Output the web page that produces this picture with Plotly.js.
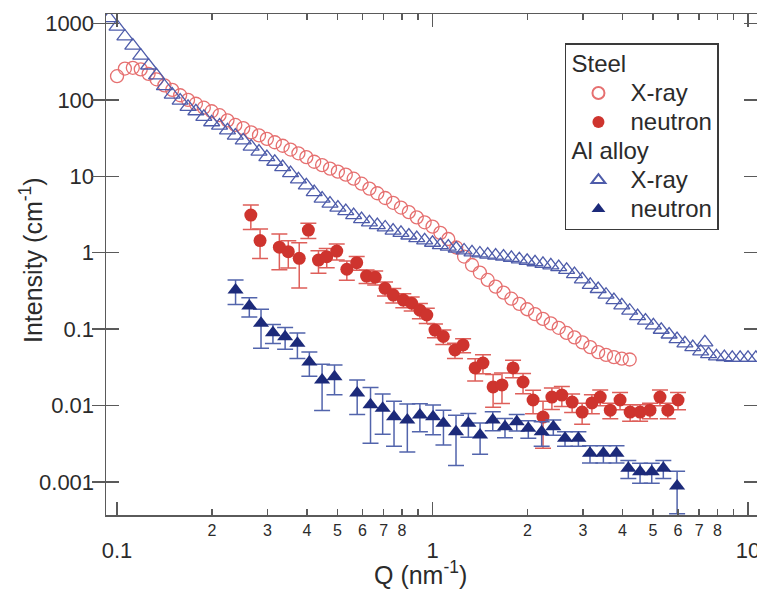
<!DOCTYPE html>
<html>
<head>
<meta charset="utf-8">
<script src="https://cdn.plot.ly/plotly-3.0.1.min.js"></script>
<style>html,body{margin:0;padding:0;background:#fff;}#chart{width:757px;height:589px;}</style>
</head>
<body>
<div id="chart"></div>
<script>
// ---- Data ----
var steelXrayQ = [0.1,0.1059,0.1122,0.1189,0.1259,0.1334,0.1413,0.1496,0.1585,0.1679,0.1778,0.1884,0.1995,0.2113,0.2239,0.2371,0.2512,0.2661,0.2818,0.2985,0.3162,0.335,0.3548,0.3758,0.3981,0.4217,0.4467,0.4732,0.5012,0.5309,0.5623,0.5957,0.631,0.6683,0.7079,0.7499,0.7943,0.8414,0.8913,0.9441,1.0,1.059,1.122,1.189,1.259,1.334,1.413,1.496,1.585,1.679,1.778,1.884,1.995,2.113,2.239,2.371,2.512,2.661,2.818,2.985,3.162,3.35,3.548,3.758,3.981,4.217];
var steelXrayI = [204,257,263,251,219,186,155,135,115,100,89,79,71,63,54,47,42.7,37.6,34.3,30.9,27.9,25.1,22.4,20.0,17.8,15.5,14.0,12.6,11.5,10.5,9.3,8.0,6.9,6.0,5.2,4.5,3.9,3.4,2.9,2.5,2.19,1.82,1.51,1.17,0.89,0.69,0.55,0.44,0.36,0.30,0.25,0.214,0.182,0.157,0.136,0.119,0.104,0.089,0.078,0.067,0.058,0.050,0.046,0.043,0.041,0.040];

var steelNeutronQ = [0.2655,0.284,0.327,0.349,0.378,0.404,0.435,0.462,0.497,0.535,0.575,0.618,0.658,0.707,0.751,0.808,0.859,0.912,0.959,1.018,1.082,1.178,1.25,1.365,1.445,1.556,1.66,1.80,1.936,2.083,2.24,2.39,2.57,2.77,2.98,3.20,3.40,3.66,3.93,4.23,4.55,4.89,5.26,5.57,6.00];
var steelNeutronI = [3.11,1.44,1.18,1.03,0.845,1.98,0.80,0.887,1.05,0.607,0.74,0.495,0.477,0.342,0.279,0.240,0.218,0.177,0.153,0.097,0.080,0.0533,0.062,0.031,0.036,0.0175,0.0186,0.031,0.0203,0.0118,0.00706,0.0129,0.0137,0.0111,0.0082,0.0108,0.0129,0.0087,0.0118,0.0082,0.0082,0.0087,0.0129,0.0087,0.0118];
var steelNeutronErr = [1.1,0.6,0.58,0.4,0.5,0.45,0.26,0.25,0.25,0.17,0.15,0.1,0.1,0.07,0.06,0.05,0.045,0.04,0.035,0.02,0.017,0.012,0.013,0.01,0.01,0.008,0.008,0.008,0.006,0.004,0.0043,0.004,0.004,0.003,0.0025,0.003,0.003,0.002,0.003,0.002,0.002,0.002,0.003,0.002,0.003];

var alXrayQ = [0.0944,0.1,0.1059,0.1122,0.1189,0.1259,0.1334,0.1413,0.1496,0.1585,0.1679,0.1778,0.1884,0.1995,0.2113,0.2239,0.2371,0.2512,0.2661,0.2818,0.2985,0.3162,0.335,0.3548,0.3758,0.3981,0.4217,0.4467,0.4732,0.5012,0.5309,0.5623,0.5957,0.631,0.6683,0.7079,0.7499,0.7943,0.8414,0.8913,0.9441,1.0,1.059,1.122,1.189,1.259,1.334,1.413,1.496,1.585,1.679,1.778,1.884,1.995,2.113,2.239,2.371,2.512,2.661,2.818,2.985,3.162,3.35,3.548,3.758,3.981,4.217,4.467,4.732,5.012,5.309,5.623,5.957,6.31,6.683,7.079,7.499,7.943,8.414,8.913,9.441,10.0,10.59,7.3];
var alXrayI = [1175,912,676,513,380,282,209,151,117,98,81,71,60,51,46,40,34,29.5,24.5,21,17.8,15.5,13.2,11.0,9.1,7.6,6.2,5.1,4.4,3.9,3.5,3.1,2.75,2.5,2.3,2.14,1.95,1.82,1.68,1.55,1.45,1.35,1.26,1.20,1.135,1.07,1.01,0.977,0.944,0.918,0.89,0.855,0.82,0.785,0.75,0.716,0.684,0.646,0.596,0.525,0.447,0.38,0.335,0.282,0.24,0.204,0.174,0.148,0.129,0.112,0.098,0.085,0.074,0.065,0.058,0.051,0.047,0.044,0.043,0.042,0.042,0.042,0.042,0.067];

var alNeutronQ = [0.2375,0.2626,0.286,0.312,0.341,0.373,0.407,0.4466,0.489,0.577,0.636,0.695,0.755,0.832,0.912,1.004,1.083,1.187,1.299,1.415,1.552,1.697,1.849,2.012,2.218,2.415,2.63,2.90,3.156,3.48,3.83,4.175,4.548,4.953,5.39,5.96];
var alNeutronI = [0.325,0.2005,0.119,0.0897,0.0796,0.0652,0.0371,0.0216,0.0238,0.0146,0.0102,0.00919,0.00713,0.00646,0.00752,0.00713,0.00585,0.00454,0.00585,0.00411,0.00646,0.00528,0.00614,0.00503,0.00454,0.00528,0.00372,0.00372,0.00237,0.00237,0.00237,0.00151,0.00136,0.00136,0.00151,0.000884];
var alNeutronErr = [0.115,0.057,0.063,0.025,0.025,0.024,0.013,0.013,0.01,0.007,0.007,0.005,0.0042,0.004,0.003,0.003,0.0028,0.0029,0.002,0.0018,0.0018,0.0015,0.0015,0.0013,0.0016,0.0012,0.0008,0.0008,0.0006,0.0006,0.0006,0.0004,0.0004,0.0004,0.0004,0.0005];

var groupNames = ['Steel', 'Al alloy'];
var seriesNames = ['X-ray', 'neutron'];
var majorTicksX = [0.1, 1, 10];
var majorTextX = ['0.1', '1', '10'];
var minorTicksX = [0.2,0.3,0.4,0.5,0.6,0.7,0.8,2,3,4,5,6,7,8];
var minorTextX = ['2','3','4','5','6','7','8','2','3','4','5','6','7','8'];
var unlabeledTicksX = [0.9, 9];
var ticksY = [0.001, 0.01, 0.1, 1, 10, 100, 1000];
var ticksYText = ['0.001', '0.01', '0.1', '1', '10', '100', '1000'];
var xTitle = 'Q (nm<sup>-1</sup>)';
var yTitle = 'Intensity (cm<sup>-1</sup>)';

// ---- Styles ----
var FONT = 'Liberation Sans, Arial, Helvetica, sans-serif';
var TXT = '#2b2b2b';
var AX = '#5a5a5a';
var cSteelX = 'rgb(230,112,112)';
var cSteelN = 'rgb(206,52,46)';
var cSteelNErr = 'rgb(222,95,90)';
var cAlX = 'rgb(78,92,170)';
var cAlN = 'rgb(28,42,122)';
var cAlNErr = 'rgb(82,100,172)';

function big(t) { return '<span style="font-size:24px">' + t + '</span>'; }

var traces = [
  {
    x: steelXrayQ, y: steelXrayI, type: 'scatter', mode: 'markers',
    name: big(seriesNames[0]), legendgroup: 'steel',
    legendgrouptitle: {text: big(groupNames[0]), font: {family: FONT, size: 20, color: TXT}},
    marker: {symbol: 'circle-open', size: 13, color: cSteelX, line: {width: 1.3, color: cSteelX}}
  },
  {
    x: steelNeutronQ, y: steelNeutronI, type: 'scatter', mode: 'markers',
    name: big(seriesNames[1]), legendgroup: 'steel',
    marker: {symbol: 'circle', size: 13, color: cSteelN, line: {width: 0}},
    error_y: {type: 'data', array: steelNeutronErr, visible: true, color: cSteelNErr, thickness: 1.5, width: 8}
  },
  {
    x: alXrayQ, y: alXrayI, type: 'scatter', mode: 'markers', xaxis: 'x2',
    name: big(seriesNames[0]), legendgroup: 'al',
    legendgrouptitle: {text: big(groupNames[1]), font: {family: FONT, size: 20, color: TXT}},
    marker: {symbol: 'triangle-up-open', size: 14, color: cAlX, line: {width: 1.3, color: cAlX}}
  },
  {
    x: alNeutronQ, y: alNeutronI, type: 'scatter', mode: 'markers',
    name: big(seriesNames[1]), legendgroup: 'al',
    marker: {symbol: 'triangle-up', size: 14, color: cAlN, line: {width: 0}},
    error_y: {type: 'data', array: alNeutronErr, visible: true, color: cAlNErr, thickness: 1.5, width: 8}
  }
];

var xrange = [-1.035, 1.0285];
var commonX = {
  type: 'log', range: xrange, showgrid: false, zeroline: false,
  showline: true, linecolor: AX, linewidth: 1.5, mirror: 'allticks',
  ticks: 'inside', tickcolor: AX, tickwidth: 1.5, tickmode: 'array',
  ticklabeloverflow: 'allow'
};

var layout = {
  width: 757, height: 589,
  margin: {l: 106, r: 0, t: 14, b: 74},
  paper_bgcolor: '#ffffff', plot_bgcolor: '#ffffff',
  font: {family: FONT, color: TXT, size: 22},
  showlegend: true,
  xaxis: Object.assign({}, commonX, {
    tickvals: majorTicksX, ticktext: majorTextX, ticklen: 13,
    tickfont: {family: FONT, size: 22, color: TXT},
    ticklabelstandoff: 15
  }),
  xaxis2: Object.assign({}, commonX, {
    overlaying: 'x', anchor: 'y', side: 'bottom',
    tickvals: minorTicksX, ticktext: minorTextX, ticklen: 6,
    tickfont: {family: FONT, size: 16, color: TXT},
    minor: {tickmode: 'array', tickvals: unlabeledTicksX, ticks: 'inside', ticklen: 6, tickcolor: AX, tickwidth: 1.5}
  }),
  yaxis: {
    type: 'log', range: [-3.433, 3.124], showgrid: false, zeroline: false,
    showline: true, linecolor: AX, linewidth: 1.5, mirror: 'allticks',
    ticks: 'inside', tickcolor: AX, tickwidth: 1.5, ticklen: 13,
    tickmode: 'array', tickvals: ticksY, ticktext: ticksYText,
    tickfont: {family: FONT, size: 22, color: TXT},
    ticklabelstandoff: 6
  },
  annotations: [
    {text: xTitle, xref: 'paper', yref: 'paper', x: 0.483, y: -0.1158,
     xanchor: 'center', yanchor: 'middle', showarrow: false,
     font: {family: FONT, size: 25, color: TXT}},
    {text: yTitle, xref: 'paper', yref: 'paper', x: -0.1152, y: 0.509, textangle: -90,
     xanchor: 'center', yanchor: 'middle', showarrow: false,
     font: {family: FONT, size: 25, color: TXT}}
  ],
  legend: {
    x: 0.705, y: 0.942, xanchor: 'left', yanchor: 'top',
    bgcolor: '#ffffff', bordercolor: '#3a3a3a', borderwidth: 1.5,
    font: {family: FONT, size: 20, color: TXT},
    tracegroupgap: 0, itemsizing: 'constant', itemwidth: 54,
    indentation: 0
  }
};

Plotly.newPlot('chart', traces, layout, {displayModeBar: false, staticPlot: true});
</script>
</body>
</html>
